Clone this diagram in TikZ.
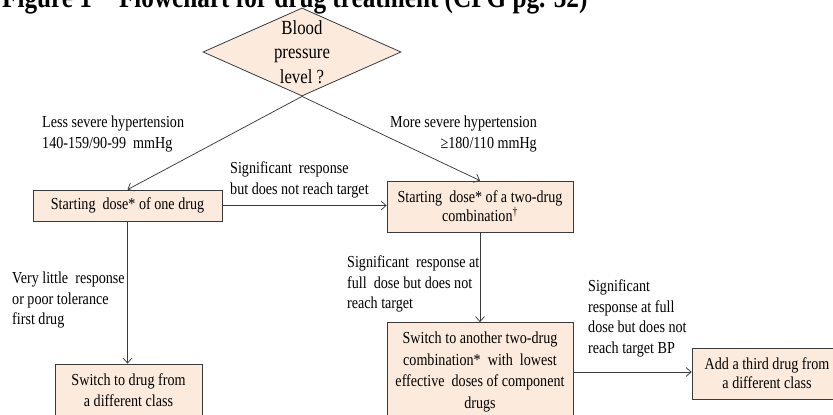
\documentclass[tikz,border=0pt]{standalone}
\usepackage{fontspec}
\setmainfont{Liberation Serif}[FakeStretch=0.84]
\usetikzlibrary{shapes.geometric,arrows.meta}
\definecolor{peach}{HTML}{FCEBDC}
\definecolor{edge}{HTML}{3A3A3A}
\begin{document}
\begin{tikzpicture}[x=1pt,y=-1pt,
  box/.style={draw=edge, fill=peach, line width=0.8pt, align=center, inner sep=0pt, font=\fontsize{16.8}{19}\selectfont},
  lbl/.style={inner sep=0pt, align=left, font=\fontsize{16.8}{20.5}\selectfont},
  arr/.style={draw=edge, line width=0.75pt, -{Straight Barb[length=5pt,width=9pt]}}]
\clip (0,0) rectangle (833,415);
\node[font=\bfseries\fontsize{30}{34}\selectfont, anchor=base west, inner sep=0pt] (title) at (2,7) {Figure 1\hspace{0.9em}Flowchart for drug treatment (CPG pg. 32)};

\node[shape=diamond, draw=edge, fill=peach, line width=0.8pt, aspect=2.25, inner sep=0pt,
  minimum width=196pt, minimum height=87pt, align=center,
  font=\fontsize{20}{24.5}\selectfont] (d) at (302,52) {Blood\\pressure\\level ?};

\node[box, minimum width=189pt, minimum height=31pt] (b1) at (127.5,205.5) {Starting\ \ dose* of one drug};
\node[box, minimum width=186pt, minimum height=51pt, font=\fontsize{16.8}{18}\selectfont] (b2) at (480,206.5) {Starting\ \ dose* of a two-drug\\combination\textsuperscript{\textdagger}};
\node[box, minimum width=186pt, minimum height=99pt, font=\fontsize{16.8}{21.5}\selectfont] (b3) at (480,372) {Switch to another two-drug\\combination*\ \ with\ \ lowest\\effective\ \ doses of component\\drugs};
\node[box, minimum width=147pt, minimum height=52pt, font=\fontsize{16.8}{21}\selectfont] (b4) at (128.5,390) {Switch to drug from\\a different class};
\node[box, minimum width=150pt, minimum height=51pt] (b5) at (767,373.5) {Add a third drug from\\a different class};

\node[lbl, anchor=west] (l1) at (42,134) {Less severe hypertension\\140-159/90-99\ \ mmHg};
\node[lbl, anchor=east, align=right] (l2) at (537,134) {More severe hypertension\\≥180/110 mmHg};
\node[lbl, anchor=west] (l3) at (230,180) {Significant\ \ response\\but does not reach target};
\node[lbl, anchor=west] (l4) at (12,300) {Very little\ \ response\\or poor tolerance\\first drug};
\node[lbl, anchor=west] (l5) at (347,284) {Significant\ \ response at\\full\ \ dose but does not\\reach target};
\node[lbl, anchor=west] (l6) at (588,318.5) {Significant\\response at full\\dose but does not\\reach target BP};

\draw[arr] (d.south) -- (b1.north);
\draw[arr] (d.south) -- (b2.north);
\draw[arr] (b1.east) -- (b1.east -| b2.west);
\draw[arr] (b1.south) -- (b1.south |- b4.north);
\draw[arr] (b2.south) -- (b3.north);
\draw[arr] (b3.east) -- (b3.east -| b5.west);
\end{tikzpicture}
\end{document}
